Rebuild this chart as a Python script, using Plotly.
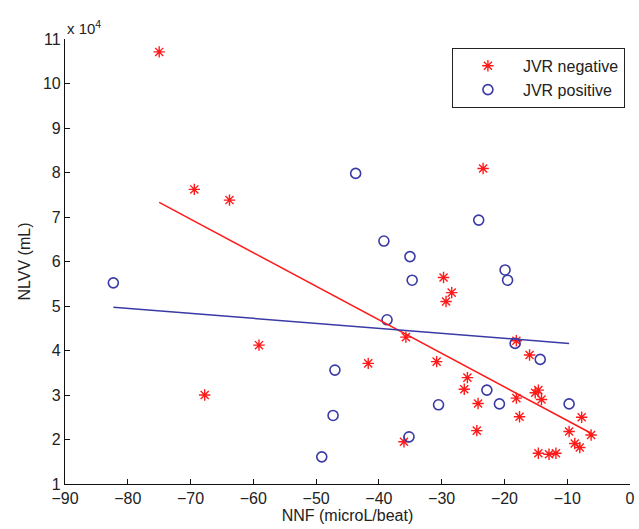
import plotly.graph_objects as go

# JVR negative (red stars), NNF in microL/beat, NLVV in mL
neg_x = [-75.0, -69.4, -63.8, -59.1, -67.75, -23.4, -29.7, -28.4, -29.3, -35.7,
         -41.7, -30.8, -25.9, -26.4, -24.2, -24.4, -36.0, -18.1, -16.0, -15.1,
         -14.6, -14.1, -18.1, -17.6, -7.7, -9.7, -6.2, -8.8, -8.0, -14.6,
         -12.9, -11.8]
neg_y = [107100, 76200, 73800, 41200, 30000, 80900, 56400, 53000, 51000, 43000,
         37100, 37500, 33900, 31300, 28100, 22000, 19500, 42200, 39000, 30500,
         31100, 29000, 29300, 25100, 25000, 21800, 21000, 19100, 18200, 16900,
         16700, 16900]

# JVR positive (blue circles)
pos_x = [-82.3, -49.1, -47.0, -47.3, -38.7, -35.2, -30.5, -43.7, -39.2, -35.05,
         -34.7, -24.1, -19.9, -19.5, -18.3, -14.3, -22.8, -20.8, -9.7]
pos_y = [55200, 16100, 35600, 25400, 46900, 20600, 27800, 79800, 64600, 61100,
         55800, 69300, 58100, 55800, 41600, 38000, 31100, 28000, 28000]

# regression lines, end points
fit_neg_x = [-75.0, -6.2]
fit_neg_y = [73300, 21400]
fit_pos_x = [-82.3, -9.7]
fit_pos_y = [49700, 41600]

x_ticks = list(range(-90, 1, 10))
y_ticks = [i * 10000 for i in range(1, 12)]
y_tick_text = [str(i) for i in range(1, 12)]

red = '#ff1a1a'
blue = '#3a3aa6'
ink = '#222'

fig = go.Figure()
fig.add_trace(go.Scatter(x=neg_x, y=neg_y, mode='markers', name='JVR negative',
                         marker=dict(symbol='asterisk-open', size=9.5, color=red,
                                     line=dict(color=red, width=1.4))))
fig.add_trace(go.Scatter(x=pos_x, y=pos_y, mode='markers', name='JVR positive',
                         marker=dict(symbol='circle-open', size=10, color=blue,
                                     line=dict(color=blue, width=1.6))))
fig.add_trace(go.Scatter(x=fit_neg_x, y=fit_neg_y, mode='lines', showlegend=False,
                         line=dict(color=red, width=1.5)))
fig.add_trace(go.Scatter(x=fit_pos_x, y=fit_pos_y, mode='lines', showlegend=False,
                         line=dict(color=blue, width=1.5)))

axis_common = dict(showline=True, linecolor='#111', linewidth=1.2, mirror=False,
                   ticks='inside', ticklen=5, tickcolor='#111', showgrid=False,
                   zeroline=False, automargin=False,
                   tickfont=dict(size=16, color=ink))

fig.update_xaxes(range=[-90, 0], tickvals=x_ticks,
                 title=dict(text='NNF (microL/beat)', font=dict(size=16, color=ink), standoff=2),
                 **axis_common)
fig.update_yaxes(range=[10000, 110000], tickvals=y_ticks, ticktext=y_tick_text,
                 title=dict(text='NLVV (mL)', font=dict(size=16, color=ink), standoff=8),
                 **axis_common)

fig.add_annotation(text='x 10<sup>4</sup>', xref='paper', yref='paper', x=0, y=1.0,
                   xanchor='left', yanchor='bottom', showarrow=False,
                   font=dict(size=15, color=ink))

fig.update_layout(
    width=639, height=529,
    margin=dict(l=65, r=9, t=39, b=45),
    paper_bgcolor='white', plot_bgcolor='white',
    font=dict(family='Liberation Sans, Arial, sans-serif', color=ink),
    legend=dict(x=0.991, y=0.98, xanchor='right', yanchor='top',
                bgcolor='white', bordercolor=ink, borderwidth=1,
                font=dict(size=16, color=ink), itemwidth=60),
)

# the page body has a default 8px margin, drop it so the figure sits at 0,0
fig.write_html('out.html', config={'displayModeBar': False},
               post_script="document.body.style.margin='0';")
